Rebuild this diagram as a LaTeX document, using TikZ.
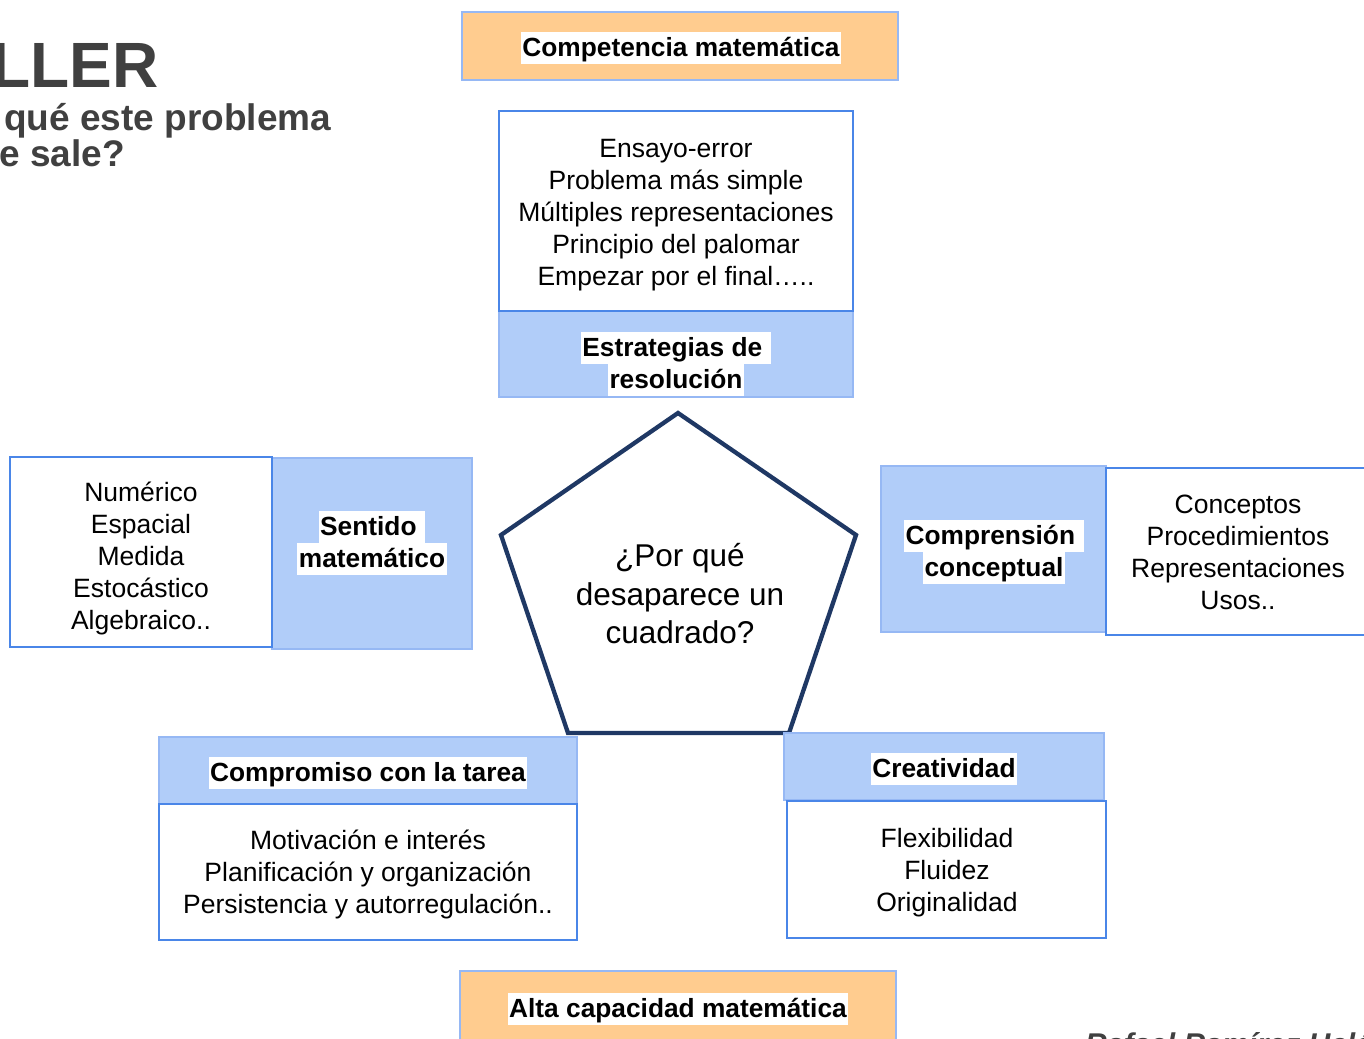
\documentclass[tikz,border=0pt]{standalone}
\usepackage{fontspec}
\setmainfont{Liberation Sans}
\definecolor{boxblue}{RGB}{74,134,232}
\definecolor{lightedge}{RGB}{150,184,244}
\definecolor{lightfill}{RGB}{177,205,249}
\definecolor{orangefill}{RGB}{255,204,143}
\definecolor{navy}{RGB}{31,56,100}
\definecolor{titlegray}{RGB}{64,64,64}
\setlength{\fboxsep}{1.5pt}
\newcommand{\hlw}[1]{\colorbox{white}{\rule[-0.21em]{0pt}{1.1em}#1}}
\begin{document}
\begin{tikzpicture}[x=1pt,y=-1pt,
  whitebox/.style={draw=boxblue, line width=2pt, fill=white, inner sep=0pt},
  fillbox/.style={draw=lightedge, line width=1.5pt, fill=lightfill, inner sep=0pt},
  orangebox/.style={draw=lightedge, line width=2pt, fill=orangefill, inner sep=0pt},
  bodytext/.style={font=\fontsize{26.5}{32}\selectfont, align=center, inner sep=0pt},
  labeltext/.style={font=\bfseries\fontsize{26.3}{32}\selectfont, align=center, inner sep=0pt},
  titletext/.style={font=\bfseries, text=titlegray, inner sep=0pt}
]
\useasboundingbox (0,0) rectangle (1364,1038);

% title (cropped)
\node[titletext, font=\bfseries\fontsize{64}{70}\selectfont, anchor=base east] (tA) at (159,88) {LLER};
\node[titletext, font=\bfseries\fontsize{37}{40}\selectfont, anchor=base west] (tB) at (4,131) {qué este problema};
\node[titletext, font=\bfseries\fontsize{37}{40}\selectfont, anchor=base west] (tC) at (-1,166) {e sale?};

% Competencia matemática
\node[orangebox, minimum width=436pt, minimum height=68pt] (comp) at (680,46) {};
\node[labeltext] (compT) at (681,48) {\hlw{Competencia matemática}};

% Estrategias
\node[fillbox, minimum width=354pt, minimum height=86pt] (estrL) at (676,354) {};
\node[whitebox, minimum width=354pt, minimum height=200pt] (estrB) at (676,211) {};
\node[bodytext] (estrT) at (676,215) {Ensayo-error\\Problema más simple\\Múltiples representaciones\\Principio del palomar\\Empezar por el final\dots..};
\node[labeltext] (estrLT) at (676,364) {\hlw{Estrategias de\ }\\\hlw{resolución}};

% Pentagon
\coordinate (p1) at (678,413);
\coordinate (p2) at (856,535);
\coordinate (p3) at (789,733);
\coordinate (p4) at (568,733);
\coordinate (p5) at (501,535);
\draw[navy, line width=4.3pt, line join=miter, fill=white] (p1) -- (p2) -- (p3) -- (p4) -- (p5) -- cycle;
\node[font=\fontsize{31.5}{38.5}\selectfont, align=center, inner sep=0pt] (q) at (680,594) {¿Por qué\\desaparece un\\cuadrado?};

% Sentido matemático
\node[fillbox, minimum width=200pt, minimum height=191pt] (sentL) at (372,553.5) {};
\node[whitebox, minimum width=262pt, minimum height=190pt] (sentB) at (141,552) {};
\node[bodytext] (sentT) at (141,558) {Numérico\\Espacial\\Medida\\Estocástico\\Algebraico..};
\node[labeltext] (sentLT) at (372,543) {\hlw{Sentido\ }\\\hlw{matemático}};

% Comprensión conceptual
\node[fillbox, minimum width=225pt, minimum height=166pt] (compL) at (993.5,549) {};
\node[whitebox, minimum width=270pt, minimum height=167pt] (compB) at (1241,551.5) {};
\node[bodytext] (compBT) at (1238,552) {Conceptos\\Procedimientos\\Representaciones\\Usos..};
\node[labeltext] (compLT) at (994,552) {\hlw{Comprensión\ }\\\hlw{conceptual}};

% Compromiso con la tarea
\node[fillbox, minimum width=418pt, minimum height=67pt] (tarL) at (368,770.5) {};
\node[whitebox, minimum width=418pt, minimum height=136pt] (tarB) at (368,872) {};
\node[labeltext] (tarLT) at (368,773) {\hlw{Compromiso con la tarea}};
\node[bodytext] (tarT) at (368,874) {Motivación e interés\\Planificación y organización\\Persistencia y autorregulación..};

% Creatividad
\node[fillbox, minimum width=320pt, minimum height=67pt] (creL) at (944,766.5) {};
\node[whitebox, minimum width=319pt, minimum height=137pt] (creB) at (946.5,869.5) {};
\node[labeltext] (creLT) at (944,769) {\hlw{Creatividad}};
\node[bodytext] (creT) at (947,873) {Flexibilidad\\Fluidez\\Originalidad};

% Alta capacidad matemática
\node[orangebox, minimum width=436pt, minimum height=80pt] (alta) at (678,1011) {};
\node[labeltext] (altaT) at (678,1009) {\hlw{Alta capacidad matemática}};

% author (cropped at bottom, as in the reference)
\node[font=\bfseries\itshape\fontsize{30}{36}\selectfont, text=titlegray, anchor=base west, inner sep=0pt] (auth) at (1085,1054) {Rafael Ramírez Uclés};
\end{tikzpicture}
\end{document}
